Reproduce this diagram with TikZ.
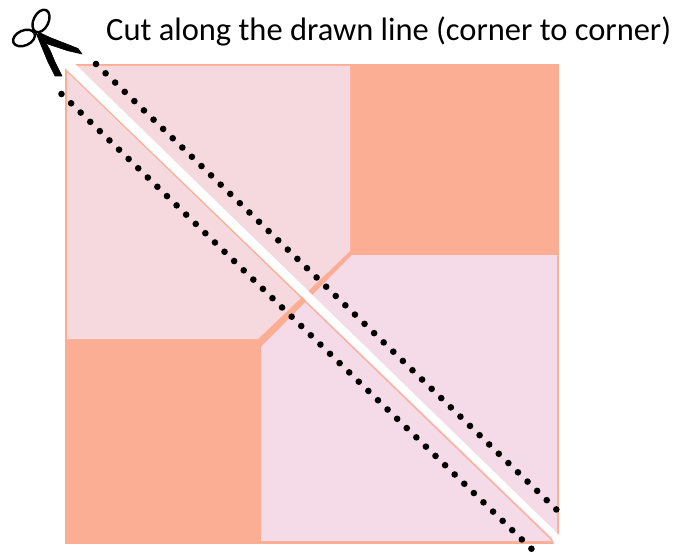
\documentclass[tikz,border=0pt]{standalone}
\usepackage{fontspec}
\setmainfont{Carlito}
\definecolor{salmon}{HTML}{FCAE94}
\definecolor{pinkTL}{HTML}{F5D9DE}
\definecolor{pinkBR}{HTML}{F5DAE7}
\tikzset{dotrow/.style={fill=black,draw=none}}
\begin{document}
\begin{tikzpicture}[x=1bp,y=-1bp]
\useasboundingbox (0,0) rectangle (676,552);
% square
\fill[salmon] (65,64) rectangle (559,544);
\fill[pinkTL] (67,66) -- (350,66) -- (350,251) -- (258,339) -- (67,339) -- cycle;
\fill[pinkBR] (261,347) -- (352,255) -- (557,255) -- (557,541) -- (261,541) -- cycle;
% thin salmon edge along the lower side of the cut band
\draw[salmon,line width=1.2bp] (65,69) -- (553,541);
% cut band
\fill[white] (64,63) -- (74,63) -- (560,536) -- (560,545) -- (554,545) -- (552,537.5) -- (65,68) -- cycle;
% dots
\foreach \i in {0,...,48}
  \fill[dotrow] ({96+\i*9.59},{64+\i*9.28}) circle (3.3);
\foreach \i in {0,...,49}
  \fill[dotrow] ({61.5+\i*9.59},{94+\i*9.28}) circle (3.3);
% scissors
\draw[line width=2.4bp] (41,21) ellipse [x radius=7.5, y radius=12, rotate=-26];
\draw[line width=2.4bp] (24,38) ellipse [x radius=11.5, y radius=7.5, rotate=24];
\filldraw[line width=0.6bp,line join=round] (37,31.5) -- (50,37.5) -- (78,48.5) -- (82,54) -- (67,50.5) -- (43,42.5) -- cycle;
\filldraw[line width=0.6bp,line join=round] (36,33) -- (45,41.5) -- (50,50) -- (55,62) -- (62,76) -- (55,76) -- (48,62) -- (41,45) -- cycle;
% text
\node[anchor=base west,inner sep=0pt,font=\fontsize{32.6}{33}\selectfont] (cap) at (106,41) {Cut along the drawn line (corner to corner)};
\end{tikzpicture}
\end{document}
